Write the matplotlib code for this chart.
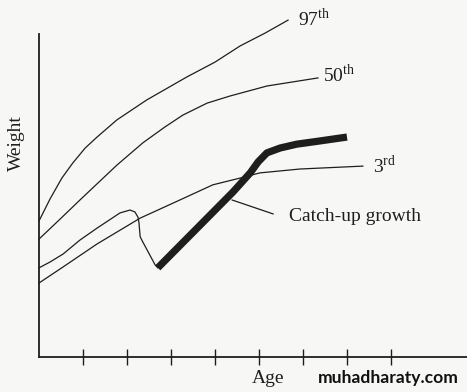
import matplotlib
matplotlib.use("Agg")
import matplotlib.pyplot as plt

# 生长曲线示意图：百分位曲线 + 追赶生长
plt.rcParams['font.family'] = ['Liberation Serif', 'DejaVu Serif']
plt.rcParams['mathtext.fontset'] = 'custom'
plt.rcParams['mathtext.rm'] = 'Liberation Serif'

# 年龄单位 = 一个刻度间隔
age_97 = [0.00, 0.25, 0.52, 0.77, 1.05, 1.32, 1.77, 2.45, 3.36, 4.00, 4.57, 5.14, 5.66]
wt_97 = [4.21, 4.89, 5.54, 6.01, 6.47, 6.81, 7.34, 7.96, 8.67, 9.13, 9.63, 10.03, 10.43]

age_50 = [0.00, 0.48, 0.93, 1.77, 2.36, 2.86, 3.27, 3.82, 4.34, 5.18, 6.34]
wt_50 = [3.65, 4.27, 4.86, 5.94, 6.63, 7.12, 7.49, 7.86, 8.08, 8.39, 8.64]

age_3 = [0.00, 0.55, 1.32, 2.30, 3.20, 3.95, 4.57, 5.02, 5.93, 7.36]
wt_3 = [2.29, 2.79, 3.50, 4.30, 4.86, 5.33, 5.54, 5.70, 5.82, 5.91]

age_child = [0.00, 0.25, 0.55, 0.93, 1.32, 1.84, 2.07, 2.18, 2.25, 2.27, 2.30, 2.36, 2.64, 2.70]
wt_child = [2.76, 2.94, 3.19, 3.62, 3.99, 4.46, 4.55, 4.49, 4.33, 4.18, 3.72, 3.56, 2.85, 2.76]

age_catch = [2.70, 4.41, 4.80, 4.98, 5.18, 5.48, 5.86, 6.39, 7.00]
wt_catch = [2.76, 5.11, 5.70, 6.04, 6.32, 6.47, 6.59, 6.69, 6.81]

tick_ages = [1, 2, 3, 4, 5, 6, 7, 8]
labels = ['97$^{\\mathrm{th}}$', '50$^{\\mathrm{th}}$', '3$^{\\mathrm{rd}}$']
label_pos = [(5.89, 10.25), (6.45, 8.51), (7.59, 5.70)]

ink = '#1e1e1e'
fig = plt.figure(figsize=(4.67, 3.92), dpi=100)
fig.patch.set_facecolor('#f7f7f5')
ax = fig.add_axes([0, 0, 1, 1])
ax.set_facecolor('#f7f7f5')
ax.set_xlim(-0.886, 9.727)
ax.set_ylim(-1.084, 11.053)

for a, w in [(age_97, wt_97), (age_50, wt_50), (age_3, wt_3), (age_child, wt_child)]:
    ax.plot(a, w, color=ink, lw=0.9, solid_joinstyle='round')
ax.plot(age_catch, wt_catch, color=ink, lw=5.2, solid_capstyle='butt', solid_joinstyle='round')

# 坐标轴
for side in ['top', 'right']:
    ax.spines[side].set_visible(False)
ax.spines['left'].set_position(('data', 0))
ax.spines['bottom'].set_position(('data', 0))
ax.spines['left'].set_bounds(0, 10.0)
ax.spines['bottom'].set_bounds(0, 9.727)
for side in ['left', 'bottom']:
    ax.spines[side].set_color(ink)
    ax.spines[side].set_linewidth(1.3)
ax.set_xticks(tick_ages)
ax.set_xticklabels([])
ax.set_yticks([])
ax.tick_params(axis='x', direction='inout', length=11.5, width=1.0, color=ink)

for txt, (x, y) in zip(labels, label_pos):
    ax.text(x, y, txt, fontsize=14, color=ink, ha='left', va='baseline')

ax.plot([4.39, 5.32], [4.86, 4.43], color=ink, lw=0.9)
ax.text(5.68, 4.21, 'Catch-up growth', fontsize=14, color=ink, ha='left', va='baseline')

ax.text(5.20, -0.80, 'Age', fontsize=14, color=ink, ha='center', va='baseline')
ax.text(-0.52, 6.63, 'Weight', fontsize=14, color=ink, ha='center', va='center', rotation=90)

ax.text(6.34, -0.80, 'muhadharaty.com', fontsize=12.6, color='#111111', ha='left', va='baseline',
        family=['Lato', 'DejaVu Sans'], fontweight='bold')

fig.savefig('out.png', dpi=100, facecolor=fig.get_facecolor())
